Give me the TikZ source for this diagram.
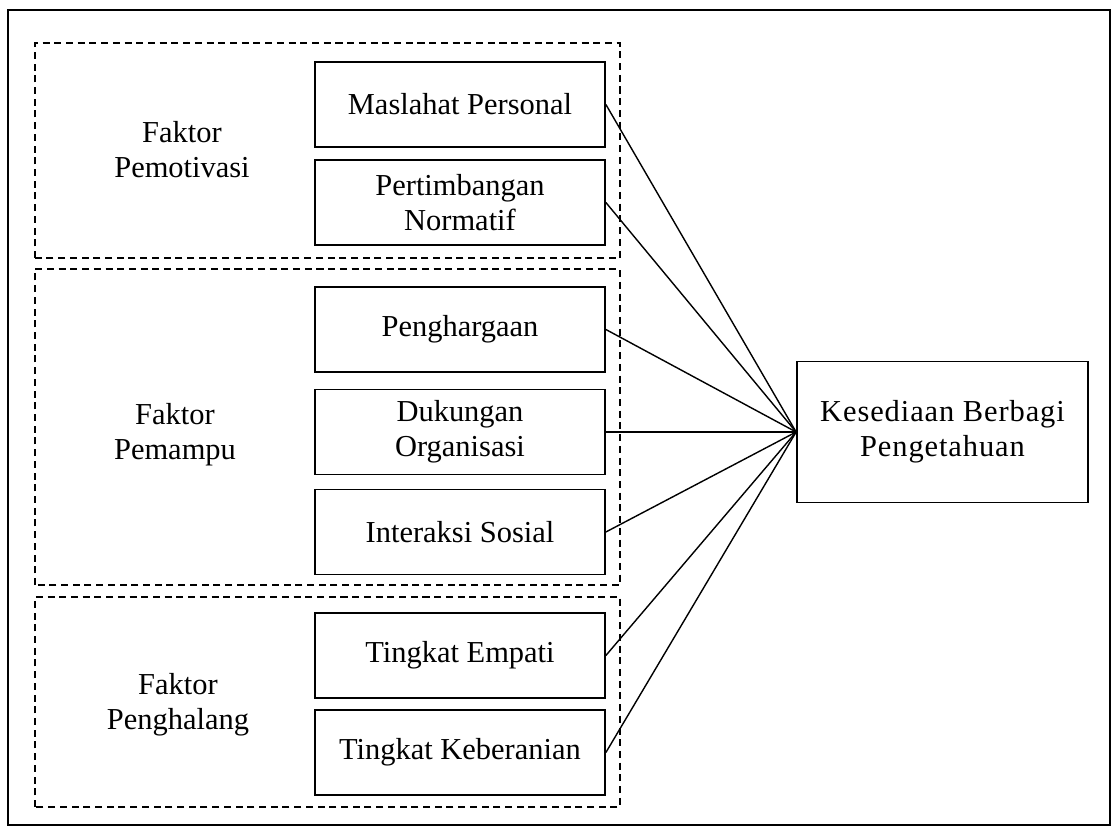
\documentclass[tikz,border=0pt]{standalone}
\usepackage{fontspec}
\setmainfont{Liberation Serif}
\begin{document}
\begin{tikzpicture}[every node/.style={font=\fontsize{26}{30}\selectfont},
  faktor/.style={draw,line width=1.5pt,minimum width=8.7cm,minimum height=2.55cm,align=center,inner sep=2pt},
  grup/.style={draw,line width=1.3pt,dash pattern=on 6pt off 4pt},
  garis/.style={line width=1.2pt}]
\useasboundingbox[fill=white] (0,0) rectangle (33.51,24.87);
% frame
\draw[line width=1.2pt] (0.24,0.12) rectangle (33.30,24.57);
% groups
\draw[grup] (1.05,17.13) rectangle (18.6,23.58);
\draw[grup] (1.05,7.32) rectangle (18.6,16.80);
\draw[grup] (1.05,0.66) rectangle (18.6,6.96);
\node[align=center] (gm) at (5.46,20.37) {Faktor\\Pemotivasi};
\node[align=center] (gp) at (5.25,11.82) {Faktor\\Pemampu};
\node[align=center] (gh) at (5.34,3.72) {Faktor\\Penghalang};
% factor boxes
\node[faktor] (mp) at (13.8,21.735) {Maslahat Personal};
\node[faktor] (pn) at (13.8,18.795) {Pertimbangan\\Normatif};
\node[faktor] (ph) at (13.8,14.985) {Penghargaan};
\node[faktor] (do) at (13.8,11.91) {Dukungan\\Organisasi};
\node[faktor] (is) at (13.8,8.91) {Interaksi Sosial};
\node[faktor] (te) at (13.8,5.205) {Tingkat Empati};
\node[faktor] (tk) at (13.8,2.295) {Tingkat Keberanian};
% outcome
\node[faktor,minimum width=8.73cm,minimum height=4.23cm] (ksd) at (28.275,11.91) {\addfontfeature{LetterSpace=3}Kesediaan Berbagi\\\addfontfeature{LetterSpace=3}Pengetahuan};
\foreach \n in {mp,pn,ph,do,is,te,tk}
  \draw[garis] (\n.east) -- (ksd.west);
\end{tikzpicture}
\end{document}
